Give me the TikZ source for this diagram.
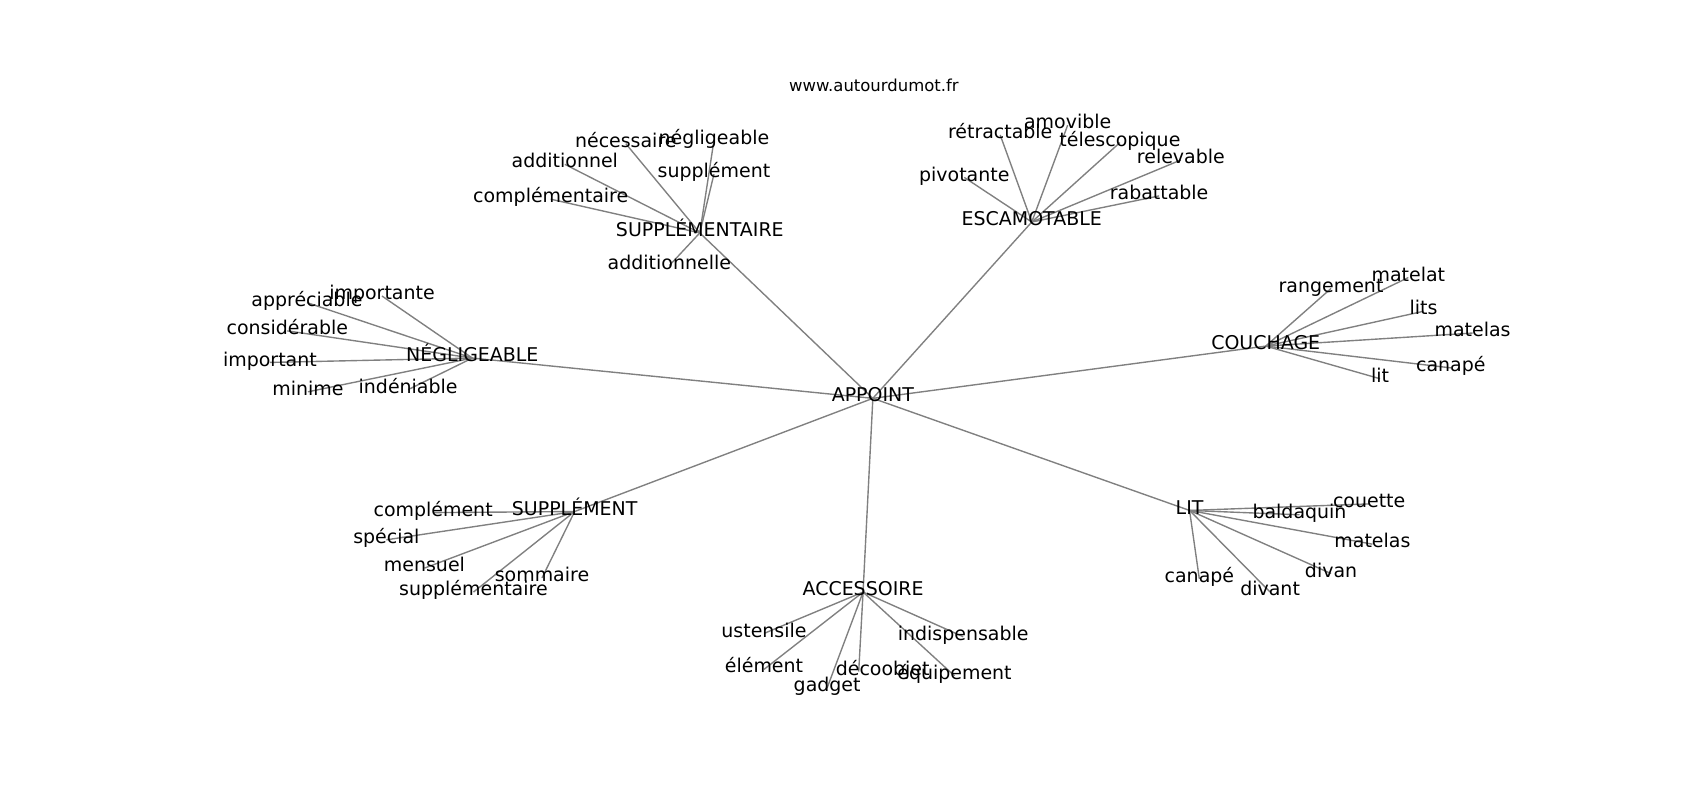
\documentclass[tikz,border=0pt]{standalone}
\usepackage{fontspec}
\setmainfont{DejaVu Sans}
\usepackage{xcolor}
\usepackage{tikz}
\usetikzlibrary{backgrounds}
\definecolor{ink}{HTML}{000000}
\definecolor{edgegray}{HTML}{808080}
\tikzset{
  word/.style={text=ink, font=\fontsize{13.7}{16}\selectfont, inner sep=0pt, text height=0.76em, text depth=0.24em},
  sitename/.style={text=ink, font=\fontsize{11.9}{14}\selectfont, inner sep=0pt},
  link/.style={draw=edgegray, line width=1pt},
}

\begin{document}
\begin{tikzpicture}[x=0.02764cm, y=-0.02764cm]
  \useasboundingbox (3,-2) rectangle (1565,733);
  \node[sitename] (site) at (806,76) {www.autourdumot.fr};

  % hubs
  \node[word] (appoint) at (805,364) {APPOINT};
  \node[word] (supplementaire) at (646,212) {SUPPLÉMENTAIRE};
  \node[word] (escamotable) at (951,202) {ESCAMOTABLE};
  \node[word] (negligeable) at (437,327) {NÉGLIGEABLE};
  \node[word] (couchage) at (1166,316) {COUCHAGE};
  \node[word] (lit) at (1096,467) {LIT};
  \node[word] (supplement) at (531,468) {SUPPLÉMENT};
  \node[word] (accessoire) at (796,542) {ACCESSOIRE};

  % SUPPLEMENTAIRE
  \node[word] (sa-necessaire) at (578,130) {nécessaire};
  \node[word] (sa-negligeable) at (659,127) {négligeable};
  \node[word] (sa-additionnel) at (522,149) {additionnel};
  \node[word] (sa-supplement) at (659,158) {supplément};
  \node[word] (sa-complementaire) at (509,181) {complémentaire};
  \node[word] (sa-additionnelle) at (618,242) {additionnelle};

  % ESCAMOTABLE
  \node[word] (es-retractable) at (922,122) {rétractable};
  \node[word] (es-amovible) at (984,113) {amovible};
  \node[word] (es-telescopique) at (1032,129) {télescopique};
  \node[word] (es-relevable) at (1088,145) {relevable};
  \node[word] (es-pivotante) at (889,161) {pivotante};
  \node[word] (es-rabattable) at (1068,178) {rabattable};

  % NEGLIGEABLE
  \node[word] (ne-appreciable) at (285,276) {appréciable};
  \node[word] (ne-importante) at (354,270) {importante};
  \node[word] (ne-considerable) at (267,302) {considérable};
  \node[word] (ne-important) at (251,331) {important};
  \node[word] (ne-minime) at (286,358) {minime};
  \node[word] (ne-indeniable) at (378,356) {indéniable};

  % COUCHAGE
  \node[word] (co-rangement) at (1226,263) {rangement};
  \node[word] (co-matelat) at (1297,253) {matelat};
  \node[word] (co-lits) at (1311,284) {lits};
  \node[word] (co-matelas) at (1356,304) {matelas};
  \node[word] (co-canape) at (1336,336) {canapé};
  \node[word] (co-lit) at (1271,346) {lit};

  % LIT
  \node[word] (li-couette) at (1261,461) {couette};
  \node[word] (li-baldaquin) at (1197,471) {baldaquin};
  \node[word] (li-matelas) at (1264,498) {matelas};
  \node[word] (li-divan) at (1226,525) {divan};
  \node[word] (li-canape) at (1105,530) {canapé};
  \node[word] (li-divant) at (1170,542) {divant};

  % SUPPLEMENT
  \node[word] (su-complement) at (401,469) {complément};
  \node[word] (su-special) at (358,494) {spécial};
  \node[word] (su-mensuel) at (393,520) {mensuel};
  \node[word] (su-sommaire) at (501,529) {sommaire};
  \node[word] (su-supplementaire) at (438,542) {supplémentaire};

  % ACCESSOIRE
  \node[word] (ac-ustensile) at (705,580) {ustensile};
  \node[word] (ac-indispensable) at (888,583) {indispensable};
  \node[word] (ac-element) at (705,613) {élément};
  \node[word] (ac-deco) at (792,615) {déco};
  \node[word] (ac-objet) at (835,615) {objet};
  \node[word] (ac-equipement) at (880,619) {équipement};
  \node[word] (ac-gadget) at (763,630) {gadget};

  \begin{scope}[on background layer]
    \foreach \hub in {supplementaire,escamotable,negligeable,couchage,lit,supplement,accessoire}
      \draw[link] (appoint.center) -- (\hub.center);
    \foreach \leaf in {necessaire,negligeable,additionnel,supplement,complementaire,additionnelle}
      \draw[link] (supplementaire.center) -- (sa-\leaf.center);
    \foreach \leaf in {retractable,amovible,telescopique,relevable,pivotante,rabattable}
      \draw[link] (escamotable.center) -- (es-\leaf.center);
    \foreach \leaf in {appreciable,importante,considerable,important,minime,indeniable}
      \draw[link] (negligeable.center) -- (ne-\leaf.center);
    \foreach \leaf in {rangement,matelat,lits,matelas,canape,lit}
      \draw[link] (couchage.center) -- (co-\leaf.center);
    \foreach \leaf in {couette,baldaquin,matelas,divan,canape,divant}
      \draw[link] (lit.center) -- (li-\leaf.center);
    \foreach \leaf in {complement,special,mensuel,sommaire,supplementaire}
      \draw[link] (supplement.center) -- (su-\leaf.center);
    \foreach \leaf in {ustensile,indispensable,element,deco,equipement,gadget}
      \draw[link] (accessoire.center) -- (ac-\leaf.center);
  \end{scope}
\end{tikzpicture}
\end{document}
